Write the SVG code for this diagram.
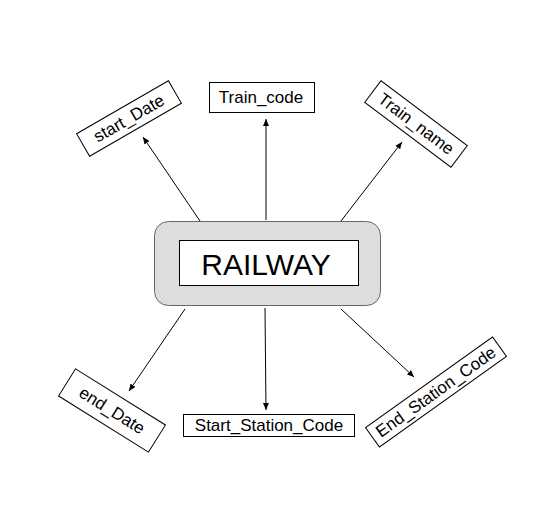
<svg xmlns="http://www.w3.org/2000/svg" width="536" height="517" viewBox="0 0 536 517">
<style>
.box{fill:#ffffff;stroke:#000000;stroke-width:1}
.lbl{font-family:"Liberation Sans",Arial,sans-serif;font-size:17px;fill:#000000;text-anchor:middle;dominant-baseline:central}
.conn{stroke:#000000;stroke-width:1;fill:none;marker-end:url(#arr)}
</style>
<defs>
<marker id="arr" markerWidth="8" markerHeight="8" refX="7" refY="4" orient="auto" markerUnits="userSpaceOnUse">
<path d="M0,1 L7,4 L0,7 Z" fill="#000000"/>
</marker>
</defs>
<rect width="536" height="517" fill="#ffffff"/>
<g id="connectors">
<line class="conn" x1="200" y1="221" x2="143" y2="137"/>
<line class="conn" x1="266" y1="220" x2="266" y2="119"/>
<line class="conn" x1="341" y1="221" x2="402" y2="142"/>
<line class="conn" x1="185" y1="309" x2="129" y2="391"/>
<line class="conn" x1="265" y1="308" x2="266" y2="410"/>
<line class="conn" x1="341" y1="309" x2="414" y2="377"/>
</g>
<g id="railway">
<rect x="154.5" y="221.5" width="226" height="84" rx="14" ry="14" fill="#dddddd" stroke="#666666" stroke-width="1"/>
<rect class="box" x="179.5" y="240.5" width="179" height="45"/>
<text x="266" y="264" font-family="'Liberation Sans',Arial,sans-serif" font-size="30" text-anchor="middle" dominant-baseline="central">RAILWAY</text>
</g>
<g id="train_code">
<rect class="box" x="209.5" y="82.5" width="105" height="30"/>
<text class="lbl" x="261" y="97">Train_code</text>
</g>
<g id="start_date" transform="translate(129,118.5) rotate(-30)">
<rect class="box" x="-53" y="-13" width="106" height="26"/>
<text class="lbl" x="0" y="0" font-size="18">start_Date</text>
</g>
<g id="train_name" transform="translate(416,124) rotate(37)">
<rect class="box" x="-54" y="-13.5" width="108" height="27"/>
<text class="lbl" x="0" y="0" font-size="18">Train_name</text>
</g>
<g id="end_date" transform="translate(112,410.5) rotate(32)">
<rect class="box" x="-53" y="-16" width="106" height="32"/>
<text class="lbl" x="0" y="0" font-size="18">end_Date</text>
</g>
<g id="start_station_code">
<rect class="box" x="183.5" y="414.5" width="171" height="22"/>
<text class="lbl" x="269" y="425.5" font-size="18">Start_Station_Code</text>
</g>
<g id="end_station_code" transform="translate(436,392) rotate(-35.5)">
<rect class="box" x="-78" y="-12" width="156" height="24"/>
<text class="lbl" x="0" y="0">End_Station_Code</text>
</g>
</svg>
